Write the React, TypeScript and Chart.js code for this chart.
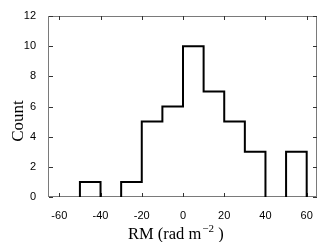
import React, { useEffect, useRef } from "react";
import { Chart, registerables } from "chart.js";

Chart.register(...registerables);

const binStarts = [-50, -40, -30, -20, -10, 0, 10, 20, 30, 40, 50];
const counts = [1, 0, 1, 5, 6, 10, 7, 5, 3, 0, 3];
const binWidth = 10;
const xTicks = [-60, -40, -20, 0, 20, 40, 60];
const yTicks = [0, 2, 4, 6, 8, 10, 12];
const xTitleMain = "RM (rad m";
const xTitleSup = "\u22122";
const xTitleEnd = " )";
const yTitle = "Count";

function stairs() {
  const pts: { x: number; y: number }[] = [{ x: binStarts[0], y: 0 }];
  binStarts.forEach((s, i) => {
    pts.push({ x: s, y: counts[i] });
    pts.push({ x: s + binWidth, y: counts[i] });
  });
  pts.push({ x: binStarts[binStarts.length - 1] + binWidth, y: 0 });
  return pts;
}

const framePlugin = {
  id: "frame",
  beforeDatasetsDraw(chart: any) {
    const { ctx, chartArea, scales } = chart;
    const { left, right, top, bottom } = chartArea;
    ctx.save();
    ctx.strokeStyle = "#7a7a7a";
    ctx.lineWidth = 1;
    ctx.strokeRect(left - 0.5, top + 0.5, right - left, bottom - top - 1);
    ctx.strokeStyle = "#333";
    ctx.beginPath();
    xTicks.forEach((v) => {
      const px = Math.round(scales.x.getPixelForValue(v)) + 0.5;
      ctx.moveTo(px, bottom);
      ctx.lineTo(px, bottom - 4);
      ctx.moveTo(px, top);
      ctx.lineTo(px, top + 4);
    });
    yTicks.forEach((v) => {
      const py = Math.round(scales.y.getPixelForValue(v)) + 0.5;
      ctx.moveTo(left, py);
      ctx.lineTo(left + 4, py);
      ctx.moveTo(right, py);
      ctx.lineTo(right - 4, py);
    });
    ctx.stroke();
    ctx.restore();
  },
  afterDraw(chart: any) {
    const { ctx } = chart;
    ctx.save();
    ctx.fillStyle = "#000";
    ctx.textBaseline = "alphabetic";
    ctx.textAlign = "left";
    const big = '16.5px "Liberation Serif"';
    const small = '11px "Liberation Serif"';
    ctx.font = big;
    const w1 = ctx.measureText(xTitleMain).width;
    ctx.font = small;
    const w2 = ctx.measureText(xTitleSup).width;
    const x0 = 128;
    const base = 239;
    ctx.font = big;
    ctx.fillText(xTitleMain, x0, base);
    ctx.font = small;
    ctx.fillText(xTitleSup, x0 + w1 + 1, base - 7);
    ctx.font = big;
    ctx.fillText(xTitleEnd, x0 + w1 + 1 + w2, base);
    ctx.translate(22.5, 121);
    ctx.rotate(-Math.PI / 2);
    ctx.textAlign = "center";
    ctx.font = '17px "Liberation Serif"';
    ctx.fillText(yTitle, 0, 0);
    ctx.restore();
  },
};

export default function App() {
  const ref = useRef<HTMLCanvasElement>(null);
  useEffect(() => {
    const chart = new Chart(ref.current!, {
      type: "line",
      data: {
        datasets: [
          {
            data: stairs(),
            borderColor: "#000",
            borderWidth: 2,
            pointRadius: 0,
            fill: false,
            tension: 0,
            segment: {
              borderColor: (c: any) =>
                c.p0.parsed.y === 0 && c.p1.parsed.y === 0 ? "rgba(0,0,0,0)" : "#000",
            },
          },
        ],
      },
      options: {
        animation: false,
        responsive: false,
        maintainAspectRatio: false,
        layout: { padding: { top: 16, right: 17, left: 0, bottom: 0 } },
        plugins: { legend: { display: false }, tooltip: { enabled: false } },
        scales: {
          x: {
            type: "linear",
            min: -65,
            max: 65,
            afterBuildTicks: (s: any) => {
              s.ticks = xTicks.map((v) => ({ value: v }));
            },
            afterFit: (s: any) => {
              s.height = 45;
            },
            grid: { display: false },
            border: { display: false },
            ticks: {
              color: "#000",
              font: { family: "Liberation Sans", size: 11 },
              padding: 4,
              maxRotation: 0,
              autoSkip: false,
            },
          },
          y: {
            type: "linear",
            min: 0,
            max: 12,
            afterBuildTicks: (s: any) => {
              s.ticks = yTicks.map((v) => ({ value: v }));
            },
            afterFit: (s: any) => {
              s.width = 49;
            },
            grid: { display: false },
            border: { display: false },
            ticks: {
              color: "#000",
              font: { family: "Liberation Sans", size: 11 },
              padding: 5,
              autoSkip: false,
            },
          },
        },
      },
      plugins: [framePlugin],
    } as any);
    return () => chart.destroy();
  }, []);
  return (
    <div style={{ position: "absolute", left: 0, top: 0, width: 334, height: 242, background: "#fff" }}>
      <canvas ref={ref} width={334} height={242} style={{ width: 334, height: 242 }} />
    </div>
  );
}
